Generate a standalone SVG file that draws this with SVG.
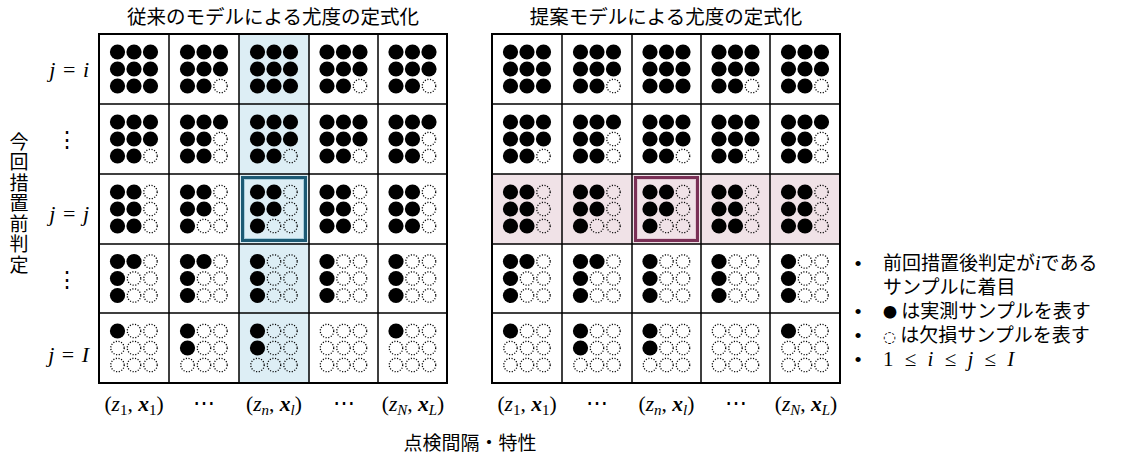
<svg xmlns="http://www.w3.org/2000/svg" width="1123" height="461" viewBox="0 0 1123 461">
<style>
.jp{font-family:"Noto Sans CJK JP","Noto Sans",sans-serif;fill:#000}
.m{font-family:"Liberation Serif","DejaVu Serif",serif;fill:#000}
.i{font-style:italic}
.bi{font-style:italic;font-weight:bold}
.grid{fill:none;stroke:#000}
.outer{stroke-width:2}
.inner{stroke-width:1.5}
</style>
<defs>
<circle id="f" r="7.6" fill="#000"/>
<circle id="o" r="6.7" fill="none" stroke="#000" stroke-width="1.3" stroke-dasharray="1.1 1.6"/>
<g id="P1"><use href="#f" x="-16.5" y="-17"/><use href="#f" x="0" y="-17"/><use href="#f" x="16.5" y="-17"/><use href="#f" x="-16.5" y="0"/><use href="#f" x="0" y="0"/><use href="#f" x="16.5" y="0"/><use href="#f" x="-16.5" y="17"/><use href="#f" x="0" y="17"/><use href="#f" x="16.5" y="17"/></g>
<g id="P2"><use href="#f" x="-16.5" y="-17"/><use href="#f" x="0" y="-17"/><use href="#f" x="16.5" y="-17"/><use href="#f" x="-16.5" y="0"/><use href="#f" x="0" y="0"/><use href="#f" x="16.5" y="0"/><use href="#f" x="-16.5" y="17"/><use href="#f" x="0" y="17"/><use href="#o" x="16.5" y="17"/></g>
<g id="P3"><use href="#f" x="-16.5" y="-17"/><use href="#f" x="0" y="-17"/><use href="#f" x="16.5" y="-17"/><use href="#f" x="-16.5" y="0"/><use href="#f" x="0" y="0"/><use href="#o" x="16.5" y="0"/><use href="#f" x="-16.5" y="17"/><use href="#f" x="0" y="17"/><use href="#o" x="16.5" y="17"/></g>
<g id="P4"><use href="#f" x="-16.5" y="-17"/><use href="#f" x="0" y="-17"/><use href="#o" x="16.5" y="-17"/><use href="#f" x="-16.5" y="0"/><use href="#f" x="0" y="0"/><use href="#o" x="16.5" y="0"/><use href="#f" x="-16.5" y="17"/><use href="#f" x="0" y="17"/><use href="#o" x="16.5" y="17"/></g>
<g id="P5"><use href="#f" x="-16.5" y="-17"/><use href="#f" x="0" y="-17"/><use href="#o" x="16.5" y="-17"/><use href="#f" x="-16.5" y="0"/><use href="#f" x="0" y="0"/><use href="#o" x="16.5" y="0"/><use href="#f" x="-16.5" y="17"/><use href="#o" x="0" y="17"/><use href="#o" x="16.5" y="17"/></g>
<g id="P6"><use href="#f" x="-16.5" y="-17"/><use href="#f" x="0" y="-17"/><use href="#o" x="16.5" y="-17"/><use href="#f" x="-16.5" y="0"/><use href="#o" x="0" y="0"/><use href="#o" x="16.5" y="0"/><use href="#f" x="-16.5" y="17"/><use href="#o" x="0" y="17"/><use href="#o" x="16.5" y="17"/></g>
<g id="P7"><use href="#f" x="-16.5" y="-17"/><use href="#o" x="0" y="-17"/><use href="#o" x="16.5" y="-17"/><use href="#f" x="-16.5" y="0"/><use href="#o" x="0" y="0"/><use href="#o" x="16.5" y="0"/><use href="#f" x="-16.5" y="17"/><use href="#o" x="0" y="17"/><use href="#o" x="16.5" y="17"/></g>
<g id="P8"><use href="#f" x="-16.5" y="-17"/><use href="#o" x="0" y="-17"/><use href="#o" x="16.5" y="-17"/><use href="#o" x="-16.5" y="0"/><use href="#o" x="0" y="0"/><use href="#o" x="16.5" y="0"/><use href="#o" x="-16.5" y="17"/><use href="#o" x="0" y="17"/><use href="#o" x="16.5" y="17"/></g>
<g id="P9"><use href="#f" x="-16.5" y="-17"/><use href="#o" x="0" y="-17"/><use href="#o" x="16.5" y="-17"/><use href="#f" x="-16.5" y="0"/><use href="#o" x="0" y="0"/><use href="#o" x="16.5" y="0"/><use href="#o" x="-16.5" y="17"/><use href="#o" x="0" y="17"/><use href="#o" x="16.5" y="17"/></g>
<g id="P10"><use href="#o" x="-16.5" y="-17"/><use href="#o" x="0" y="-17"/><use href="#o" x="16.5" y="-17"/><use href="#o" x="-16.5" y="0"/><use href="#o" x="0" y="0"/><use href="#o" x="16.5" y="0"/><use href="#o" x="-16.5" y="17"/><use href="#o" x="0" y="17"/><use href="#o" x="16.5" y="17"/></g>
</defs>
<rect width="1123" height="461" fill="#fff"/>

<!-- Titles -->
<text class="jp" x="273" y="24" font-size="19.5" text-anchor="middle">従来のモデルによる尤度の定式化</text>
<text class="jp" x="666" y="24" font-size="19.5" text-anchor="middle">提案モデルによる尤度の定式化</text>

<!-- Vertical axis label -->
<text class="jp" x="19" y="132" font-size="19" letter-spacing="1.5" style="writing-mode:vertical-rl">今回措置前判定</text>

<!-- Row labels -->
<g id="row-labels" class="m" font-size="22" word-spacing="2">
<text x="89" y="77" text-anchor="end"><tspan class="i">j</tspan> = <tspan class="i">i</tspan></text>
<text x="67" y="147" text-anchor="middle">⋮</text>
<text x="89" y="221" text-anchor="end"><tspan class="i">j</tspan> = <tspan class="i">j</tspan></text>
<text x="67" y="287" text-anchor="middle">⋮</text>
<text x="89" y="362" text-anchor="end"><tspan class="i">j</tspan> = <tspan class="i">I</tspan></text>
</g>

<!-- Left grid -->
<g id="grid-conventional">
<rect x="239" y="34" width="70" height="349" fill="#ddeef5"/>
<g id="L-r1">
<use href="#P1" x="134" y="69"/><use href="#P2" x="204" y="69"/><use href="#P1" x="274" y="69"/><use href="#P2" x="343.5" y="69"/><use href="#P2" x="412.5" y="69"/>
</g>
<g id="L-r2">
<use href="#P2" x="134" y="139"/><use href="#P3" x="204" y="139"/><use href="#P2" x="274" y="139"/><use href="#P2" x="343.5" y="139"/><use href="#P3" x="412.5" y="139"/>
</g>
<g id="L-r3">
<use href="#P4" x="134" y="209"/><use href="#P5" x="204" y="209"/><use href="#P5" x="274" y="209"/><use href="#P4" x="343.5" y="209"/><use href="#P4" x="412.5" y="209"/>
</g>
<g id="L-r4">
<use href="#P6" x="134" y="278.5"/><use href="#P6" x="204" y="278.5"/><use href="#P7" x="274" y="278.5"/><use href="#P7" x="343.5" y="278.5"/><use href="#P7" x="412.5" y="278.5"/>
</g>
<g id="L-r5">
<use href="#P8" x="134" y="348"/><use href="#P9" x="204" y="348"/><use href="#P9" x="274" y="348"/><use href="#P10" x="343.5" y="348"/><use href="#P8" x="412.5" y="348"/>
</g>
<path class="grid inner" d="M169 34V383M239 34V383M309 34V383M378 34V383M99 104H447M99 174H447M99 244H447M99 313H447"/>
<rect class="grid outer" x="99" y="34" width="348" height="349"/>
<rect x="242.5" y="177.5" width="63" height="63" fill="none" stroke="#1c5a74" stroke-width="3"/>
<rect x="244.5" y="179.5" width="59" height="59" fill="none" stroke="#a8cddc" stroke-width="1"/>
</g>

<!-- Right grid -->
<g id="grid-proposed">
<rect x="492" y="174" width="348" height="70" fill="#f0e2e7"/>
<g id="R-r1">
<use href="#P1" x="527" y="69"/><use href="#P2" x="597" y="69"/><use href="#P1" x="666.5" y="69"/><use href="#P2" x="735.5" y="69"/><use href="#P2" x="805" y="69"/>
</g>
<g id="R-r2">
<use href="#P2" x="527" y="139"/><use href="#P3" x="597" y="139"/><use href="#P2" x="666.5" y="139"/><use href="#P2" x="735.5" y="139"/><use href="#P3" x="805" y="139"/>
</g>
<g id="R-r3">
<use href="#P4" x="527" y="209"/><use href="#P5" x="597" y="209"/><use href="#P5" x="666.5" y="209"/><use href="#P4" x="735.5" y="209"/><use href="#P4" x="805" y="209"/>
</g>
<g id="R-r4">
<use href="#P6" x="527" y="278.5"/><use href="#P6" x="597" y="278.5"/><use href="#P7" x="666.5" y="278.5"/><use href="#P7" x="735.5" y="278.5"/><use href="#P7" x="805" y="278.5"/>
</g>
<g id="R-r5">
<use href="#P8" x="527" y="348"/><use href="#P9" x="597" y="348"/><use href="#P9" x="666.5" y="348"/><use href="#P10" x="735.5" y="348"/><use href="#P8" x="805" y="348"/>
</g>
<path class="grid inner" d="M562 34V383M632 34V383M701 34V383M770 34V383M492 104H840M492 174H840M492 244H840M492 313H840"/>
<rect class="grid outer" x="492" y="34" width="348" height="349"/>
<rect x="635.5" y="177.5" width="62" height="63" fill="none" stroke="#7a3056" stroke-width="3"/>
<rect x="637.5" y="179.5" width="58" height="59" fill="none" stroke="#e2c8d3" stroke-width="1"/>
</g>

<!-- Column labels -->
<g id="col-labels" class="m" font-size="21.5" text-anchor="middle">
<text x="134" y="411">(<tspan class="i">z</tspan><tspan font-size="15" dy="4">1</tspan><tspan dy="-4">, </tspan><tspan class="bi">x</tspan><tspan font-size="15" dy="4">1</tspan><tspan dy="-4">)</tspan></text>
<text x="204" y="410">⋯</text>
<text x="274" y="411">(<tspan class="i">z</tspan><tspan class="i" font-size="15" dy="4">n</tspan><tspan dy="-4">, </tspan><tspan class="bi">x</tspan><tspan class="i" font-size="15" dy="4">l</tspan><tspan dy="-4">)</tspan></text>
<text x="343.5" y="410">⋯</text>
<text x="413" y="411">(<tspan class="i">z</tspan><tspan class="i" font-size="15" dy="4">N</tspan><tspan dy="-4">, </tspan><tspan class="bi">x</tspan><tspan class="i" font-size="15" dy="4">L</tspan><tspan dy="-4">)</tspan></text>
<text x="527" y="411">(<tspan class="i">z</tspan><tspan font-size="15" dy="4">1</tspan><tspan dy="-4">, </tspan><tspan class="bi">x</tspan><tspan font-size="15" dy="4">1</tspan><tspan dy="-4">)</tspan></text>
<text x="597" y="410">⋯</text>
<text x="666.5" y="411">(<tspan class="i">z</tspan><tspan class="i" font-size="15" dy="4">n</tspan><tspan dy="-4">, </tspan><tspan class="bi">x</tspan><tspan class="i" font-size="15" dy="4">l</tspan><tspan dy="-4">)</tspan></text>
<text x="735.5" y="410">⋯</text>
<text x="806" y="411">(<tspan class="i">z</tspan><tspan class="i" font-size="15" dy="4">N</tspan><tspan dy="-4">, </tspan><tspan class="bi">x</tspan><tspan class="i" font-size="15" dy="4">L</tspan><tspan dy="-4">)</tspan></text>
</g>
<text class="jp" x="470" y="450" font-size="19" text-anchor="middle">点検間隔・特性</text>

<!-- Legend -->
<g id="legend">
<text font-family="Liberation Sans, sans-serif" font-size="19" text-anchor="middle"><tspan x="858" y="270">•</tspan><tspan x="858" y="318">•</tspan><tspan x="858" y="342">•</tspan><tspan x="858" y="366">•</tspan></text>
<text class="jp" font-size="19"><tspan x="883" y="270">前回措置後判定が</tspan><tspan class="m i" font-size="20">i</tspan><tspan>である</tspan><tspan x="883" y="294">サンプルに着目</tspan><tspan x="883" y="317" font-size="14">●</tspan><tspan y="318"> は実測サンプルを表す</tspan><tspan x="883" y="342" font-family="DejaVu Sans, sans-serif" font-size="15">◌</tspan><tspan> は欠損サンプルを表す</tspan><tspan class="m" x="883" y="366" font-size="21" word-spacing="6">1 ≤ <tspan class="i">i</tspan> ≤ <tspan class="i">j</tspan> ≤ <tspan class="i">I</tspan></tspan></text>
</g>
</svg>
